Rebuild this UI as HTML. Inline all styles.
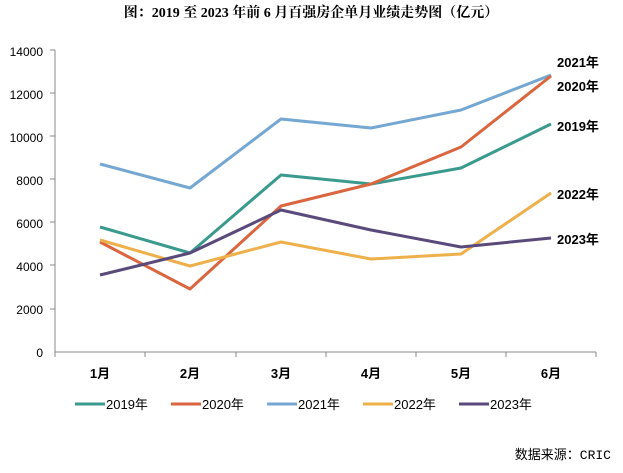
<!DOCTYPE html>
<html><head><meta charset="utf-8"><style>
body{margin:0;background:#fff;width:623px;height:468px;overflow:hidden}
text{font-family:"Liberation Sans","Noto Sans CJK SC",sans-serif}
</style></head><body>
<svg width="623" height="468" viewBox="0 0 623 468" xmlns="http://www.w3.org/2000/svg">
<text x="311" y="17" text-anchor="middle" font-size="14" font-weight="bold" style="font-family:'Liberation Serif','Noto Serif CJK SC',serif">图：2019 至 2023 年前 6 月百强房企单月业绩走势图（亿元）</text>
<g font-size="12" fill="#000" text-anchor="end">
<text x="43" y="56">14000</text><text x="43" y="99">12000</text><text x="43" y="142">10000</text>
<text x="43" y="185">8000</text><text x="43" y="228">6000</text><text x="43" y="271">4000</text>
<text x="43" y="314">2000</text><text x="43" y="357">0</text>
</g>
<g stroke="#888" stroke-width="1">
<line x1="55" y1="50" x2="55" y2="352"/><line x1="55" y1="352" x2="596" y2="352"/>
<line x1="50" y1="50" x2="55" y2="50"/><line x1="50" y1="93" x2="55" y2="93"/><line x1="50" y1="136" x2="55" y2="136"/><line x1="50" y1="179" x2="55" y2="179"/><line x1="50" y1="222" x2="55" y2="222"/><line x1="50" y1="265" x2="55" y2="265"/><line x1="50" y1="309" x2="55" y2="309"/>
<line x1="145" y1="352" x2="145" y2="357"/><line x1="236" y1="352" x2="236" y2="357"/><line x1="326" y1="352" x2="326" y2="357"/><line x1="416" y1="352" x2="416" y2="357"/><line x1="506" y1="352" x2="506" y2="357"/><line x1="596" y1="352" x2="596" y2="357"/><line x1="55" y1="352" x2="55" y2="357"/>
</g>
<g font-size="13" font-weight="bold" text-anchor="middle">
<text x="100" y="378">1月</text><text x="190" y="378">2月</text><text x="281" y="378">3月</text><text x="371" y="378">4月</text><text x="461" y="378">5月</text><text x="551" y="378">6月</text>
</g>
<g fill="none" stroke-width="3" stroke-linejoin="round">
<polyline stroke="#74a7d1" points="100,164 190,188 281,119 371,128 461,110 551,75"/>
<polyline stroke="#3a9a8e" points="100,227 190,253 281,175 371,184 461,168 551,124"/>
<polyline stroke="#d9663f" points="100,242 190,289 281,206 371,184 461,147 551,76"/>
<polyline stroke="#eeb04a" points="100,240 190,266 281,242 371,259 461,254 551,193"/>
<polyline stroke="#5a4a7c" points="100,275 190,253 281,210 371,230 461,247 551,238"/>
</g>
<g font-size="13" font-weight="bold">
<text x="557" y="67">2021年</text><text x="557" y="91">2020年</text><text x="557" y="131">2019年</text><text x="557" y="199">2022年</text><text x="557" y="244">2023年</text>
</g>
<g stroke-width="3">
<line x1="75" y1="404" x2="105" y2="404" stroke="#3a9a8e"/>
<line x1="171" y1="404" x2="201" y2="404" stroke="#d9663f"/>
<line x1="267" y1="404" x2="297" y2="404" stroke="#74a7d1"/>
<line x1="363" y1="404" x2="393" y2="404" stroke="#eeb04a"/>
<line x1="459" y1="404" x2="489" y2="404" stroke="#5a4a7c"/>
</g>
<g font-size="13">
<text x="106" y="409">2019年</text><text x="202" y="409">2020年</text><text x="298" y="409">2021年</text><text x="394" y="409">2022年</text><text x="490" y="409">2023年</text>
</g>
<text x="611" y="459" text-anchor="end" font-size="13" style="font-family:'Liberation Mono','Noto Sans CJK SC',monospace">数据来源：CRIC</text>
</svg>
</body></html>
